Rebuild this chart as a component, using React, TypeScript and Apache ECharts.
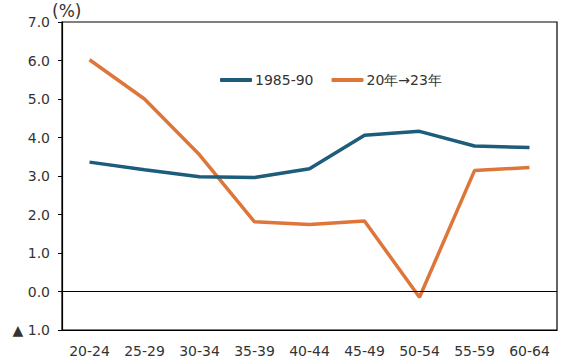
import React, { useEffect, useRef } from "react";
import * as echarts from "echarts";

const categories = ["20-24", "25-29", "30-34", "35-39", "40-44", "45-49", "50-54", "55-59", "60-64"];
const series1985 = [3.36, 3.16, 2.98, 2.96, 3.19, 4.06, 4.16, 3.78, 3.74];
const series2023 = [6.02, 5.0, 3.55, 1.81, 1.74, 1.83, -0.15, 3.14, 3.22];
const seriesNames = ["1985-90", "20年→23年"];

const FONT = "DejaVu Sans";

export default function App() {
  const ref = useRef<HTMLDivElement>(null);
  useEffect(() => {
    if (!ref.current) return;
    const chart = echarts.init(ref.current, undefined, { renderer: "svg" });
    chart.setOption({
      animation: false,
      backgroundColor: "#fff",
      textStyle: { fontFamily: FONT },
      grid: {
        left: 62,
        right: 10,
        top: 22,
        bottom: 34,
        show: true,
        borderColor: "#000",
        borderWidth: 1.2,
      },
      legend: {
        left: 215,
        top: 68,
        itemWidth: 32,
        itemHeight: 4,
        itemGap: 18,
        icon: "roundRect",
        textStyle: { fontFamily: FONT, fontSize: 14, color: "#333", padding: [0, 0, 0, -2] },
        data: seriesNames,
      },
      graphic: [
        {
          type: "text",
          left: 52,
          top: 2,
          style: { text: "(%)", font: `17px ${FONT}`, fill: "#333" },
        },
      ],
      xAxis: {
        type: "category",
        data: categories,
        boundaryGap: true,
        axisLine: { onZero: false, lineStyle: { color: "#000", width: 1.2 } },
        axisTick: { show: false },
        axisLabel: { fontFamily: FONT, fontSize: 14, color: "#333", margin: 14 },
      },
      yAxis: {
        type: "value",
        min: -1,
        max: 7,
        interval: 1,
        axisLine: { show: true, lineStyle: { color: "#000", width: 1.2 } },
        axisTick: { show: true, inside: false, length: 4, lineStyle: { color: "#000" } },
        splitLine: { show: false },
        axisLabel: {
          fontFamily: FONT,
          fontSize: 14,
          color: "#333",
          margin: 12,
          formatter: (v: number) => (v < 0 ? "▲ " + Math.abs(v).toFixed(1) : v.toFixed(1)),
        },
      },
      series: [
        {
          name: seriesNames[0],
          type: "line",
          data: series1985,
          symbol: "none",
          lineStyle: { color: "#1d5c7b", width: 3.5 },
          itemStyle: { color: "#1d5c7b" },
          markLine: {
            silent: true,
            symbol: "none",
            label: { show: false },
            lineStyle: { color: "#000", width: 1.2, type: "solid" },
            data: [{ yAxis: 0 }],
          },
          z: 3,
        },
        {
          name: seriesNames[1],
          type: "line",
          data: series2023,
          symbol: "none",
          lineStyle: { color: "#de763a", width: 3.5 },
          itemStyle: { color: "#de763a" },
          z: 2,
        },
      ],
    });
    return () => chart.dispose();
  }, []);
  return <div ref={ref} style={{ width: 567, height: 364, position: "absolute", left: 0, top: 0 }} />;
}
